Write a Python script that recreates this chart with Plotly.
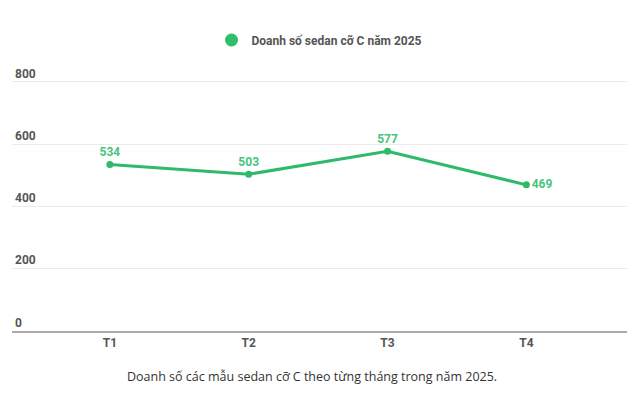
import plotly.graph_objects as go

months = ["T1", "T2", "T3", "T4"]
sales = [534, 503, 577, 469]
label_pos = ["top center", "top center", "top center", "middle right"]
y_ticks = [0, 200, 400, 600, 800]
series_name = "Doanh số sedan cỡ C năm 2025"
caption = "Doanh số các mẫu sedan cỡ C theo từng tháng trong năm 2025."

green = "#2dbb6b"

fig = go.Figure()
fig.add_trace(go.Scatter(
    x=months, y=sales, mode="lines+markers+text",
    name=series_name, showlegend=False,
    line=dict(color=green, width=3),
    marker=dict(color=green, size=7),
    text=[str(v) for v in sales],
    textposition=label_pos,
    textfont=dict(family="Roboto", size=12, color="#48c47e", weight="bold"),
    cliponaxis=False,
))
# legend-only entry (circle marker without line)
fig.add_trace(go.Scatter(
    x=[None], y=[None], mode="markers", name=series_name,
    marker=dict(color="#2fbf6a", size=13), showlegend=True,
))

fig.update_layout(
    width=631, height=399,
    margin=dict(l=12, r=4, t=63, b=68, autoexpand=False),
    paper_bgcolor="white", plot_bgcolor="white",
    font=dict(family="Roboto", size=12, color="#555"),
    showlegend=True,
    legend=dict(orientation="h", x=0.5, xanchor="center",
                yref="container", y=1 - 40 / 399, yanchor="middle",
                font=dict(family="Roboto", size=12, color="#555", weight="bold"),
                itemsizing="trace"),
    xaxis=dict(
        range=[-0.705, 3.725], showgrid=False, zeroline=False,
        showline=True, linecolor="#aaaaaa", linewidth=1.5,
        ticks="", tickfont=dict(family="Roboto", size=12, color="#555", weight="bold"),
        automargin=False,
    ),
    yaxis=dict(
        range=[0, 860], tickvals=y_ticks, ticktext=[str(v) for v in y_ticks],
        showgrid=True, gridcolor="#ebebeb", gridwidth=1,
        zeroline=False, showline=False, ticks="",
        ticklabelposition="inside top", automargin=False,
        tickfont=dict(family="Roboto", size=12, color="#555", weight="bold"),
    ),
    annotations=[dict(
        text=caption,
        xref="paper", yref="paper", x=0.4886, y=-0.168,
        xanchor="center", yanchor="middle",
        showarrow=False, font=dict(family="Open Sans", size=12.5, color="#333"),
    )],
)

fig.write_html(
    "out.html",
    config={"displayModeBar": False},
    post_script="document.body.style.margin='0';document.body.style.overflow='hidden';",
)
